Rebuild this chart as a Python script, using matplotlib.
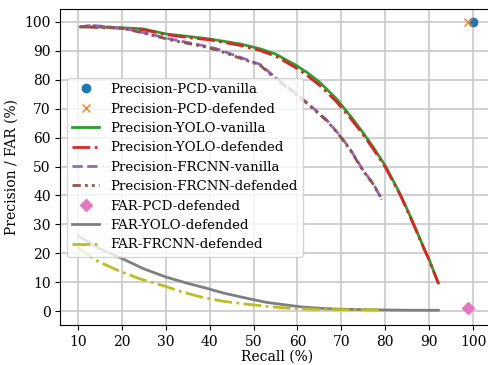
import matplotlib
matplotlib.use("Agg")
import matplotlib.pyplot as plt
import numpy as np

plt.rcParams['font.family'] = ['DejaVu Serif']
plt.rcParams['font.size'] = 10

# point results for PCD
pcd_vanilla = (100.0, 100.0)
pcd_defended = (98.8, 100.0)
far_pcd_defended = (98.9, 1.1)

# precision-recall curves, YOLO
yolo_recall = [10.5, 15, 20, 24.8, 30.2, 35, 40, 46.9, 51.5, 55, 59.8, 62.1, 65.1,
               68.9, 72, 74.6, 77.3, 80, 83.4, 86, 89.1, 89.8, 92.1]
yolo_prec_vanilla = [98.3, 98.2, 98.0, 97.6, 95.8, 95.0, 94.1, 92.4, 90.7, 88.9, 84.9,
                     82.6, 79.1, 73.4, 67.6, 62.4, 56.6, 50.3, 40.5, 31.8, 20.8, 18.6, 9.7]
yolo_prec_defended = [98.4, 98.1, 97.8, 97.3, 95.6, 94.6, 93.8, 91.9, 90.1, 88.2, 84.0,
                      81.6, 78.0, 72.4, 66.8, 61.8, 56.0, 49.8, 40.2, 31.5, 20.6, 18.4, 9.6]

# precision-recall curves, FRCNN
frcnn_recall = [10.5, 13.1, 17, 21.1, 26.4, 31, 38.5, 41.6, 46.9, 51.5, 54.5, 58,
                62.1, 66.7, 69.7, 72, 75, 77.3, 79.2]
frcnn_prec_vanilla = [98.3, 98.8, 98.3, 97.6, 95.8, 94.1, 91.8, 90.7, 87.8, 85.3, 81.4,
                      77.2, 72.2, 66.0, 60.7, 56.0, 48.6, 44.0, 38.6]
frcnn_prec_defended = [98.2, 98.7, 98.2, 97.5, 95.6, 93.8, 91.5, 90.3, 87.5, 85.0, 81.0,
                       76.9, 71.9, 65.8, 60.5, 55.8, 48.4, 43.8, 38.8]

# false alarm rates
far_yolo_recall = [10.1, 15, 20.3, 25, 30.2, 35, 39.3, 43, 47.7, 53, 60.6, 65, 69, 75, 80, 86, 92.1]
far_yolo = [26.0, 21.5, 18.0, 14.6, 11.7, 9.6, 7.9, 6.3, 4.7, 3.0, 1.5, 1.0, 0.7, 0.5, 0.4, 0.3, 0.3]
far_frcnn_recall = [10.0, 14, 19.2, 24, 29.4, 34, 38.5, 43, 48.4, 54, 59, 65, 70, 78.8]
far_frcnn = [22.0, 17.6, 14.0, 11.2, 8.8, 6.5, 4.7, 3.4, 2.4, 1.5, 0.9, 0.6, 0.5, 0.45]

fig = plt.figure(figsize=(4.89, 3.65), dpi=100)
ax = fig.add_axes([0.1237, 0.1096, 0.884, 0.8644])

ax.plot(*pcd_vanilla, 'o', color='C0', label='Precision-PCD-vanilla')
ax.plot(*pcd_defended, 'x', color='C1', label='Precision-PCD-defended')
ax.plot(yolo_recall, yolo_prec_vanilla, '-', color='C2', lw=2, label='Precision-YOLO-vanilla')
ax.plot(yolo_recall, yolo_prec_defended, '-.', color='C3', lw=2, label='Precision-YOLO-defended')
ax.plot(frcnn_recall, frcnn_prec_vanilla, '--', color='C4', lw=2, label='Precision-FRCNN-vanilla')
ax.plot(frcnn_recall, frcnn_prec_defended, linestyle=(0, (3, 1.5, 1, 1.5, 1, 1.5)), color='C5', lw=2,
        label='Precision-FRCNN-defended')
ax.plot(*far_pcd_defended, 'D', color='C6', label='FAR-PCD-defended')
ax.plot(far_yolo_recall, far_yolo, '-', color='C7', lw=2, label='FAR-YOLO-defended')
ax.plot(far_frcnn_recall, far_frcnn, '-.', color='C8', lw=2, label='FAR-FRCNN-defended')

ax.set_xlim(6.0, 104.5)
ax.set_ylim(-4.8, 104.3)
ax.set_xticks(np.arange(10, 101, 10))
ax.set_yticks(np.arange(0, 101, 10))
ax.grid(True, color='#c8c8c8', lw=1.2)
ax.set_axisbelow(True)
ax.set_xlabel('Recall (%)', labelpad=1)
ax.set_ylabel('Precision / FAR (%)')
ax.legend(loc='center left', fontsize=9.6, handlelength=2.0, borderpad=0.4, labelspacing=0.48)

fig.savefig('out.png', dpi=100)
